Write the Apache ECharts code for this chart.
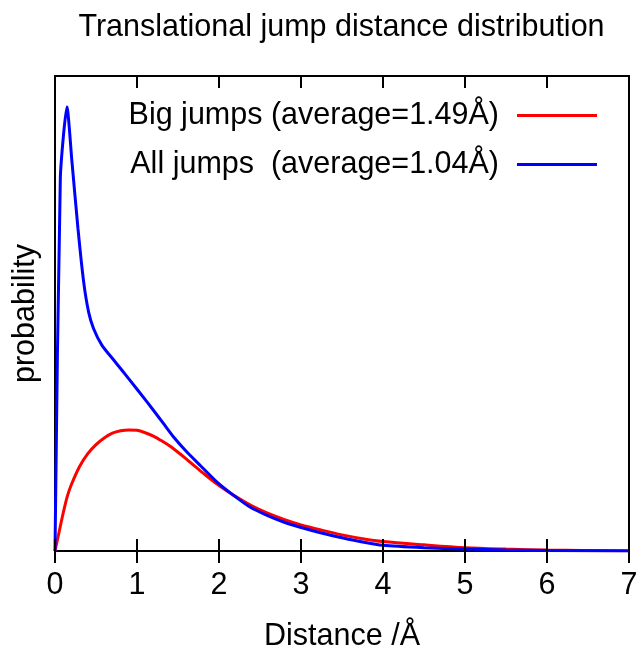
<!DOCTYPE html>
<html>
<head>
<meta charset="utf-8">
<script src="https://cdn.jsdelivr.net/npm/echarts@6/dist/echarts.min.js"></script>
<style>html,body{margin:0;padding:0;background:#fff}#c{width:642px;height:651px}</style>
</head>
<body>
<div id="c"></div>
<script>
const titleText = 'Translational jump distance distribution';
const xName = 'Distance /Å';
const yName = 'probability';
const xTicks = [0, 1, 2, 3, 4, 5, 6, 7];
const bigName = 'Big jumps (average=1.49Å)';
const allName = 'All jumps  (average=1.04Å)';
const bigJumps = [[0,0],[0.05,0.04],[0.1,0.08],[0.15,0.115],[0.2,0.14],[0.3,0.178],[0.4,0.205],[0.5,0.224],[0.6,0.238],[0.7,0.248],[0.8,0.253],[0.9,0.255],[1.0,0.254],[1.1,0.249],[1.2,0.242],[1.3,0.232],[1.4,0.221],[1.5,0.208],[1.6,0.194],[1.7,0.179],[1.8,0.165],[1.9,0.151],[2.0,0.138],[2.2,0.115],[2.4,0.095],[2.6,0.079],[2.8,0.066],[3.0,0.055],[3.25,0.044],[3.5,0.034],[3.75,0.026],[4.0,0.02],[4.5,0.013],[5.0,0.007],[5.5,0.004],[6.0,0.002],[7.0,0.0005]];
const allJumps = [[0,0],[0.065,0.785],[0.146,0.935],[0.207,0.819],[0.28,0.679],[0.349,0.567],[0.41,0.503],[0.471,0.468],[0.573,0.433],[0.735,0.398],[0.898,0.363],[1.122,0.314],[1.324,0.268],[1.446,0.24],[1.6,0.21],[1.772,0.18],[1.976,0.145],[2.178,0.117],[2.382,0.092],[2.586,0.075],[2.788,0.061],[2.99,0.05],[3.25,0.038],[3.5,0.028],[3.75,0.019],[4.0,0.012],[4.5,0.007],[5.0,0.004],[5.5,0.002],[6.0,0.001],[7.0,0]];

const FONT = 'Liberation Sans';
const TICK_LEN = 12;
const axisLine = {show: true, lineStyle: {color: '#000', width: 2}};
const xTick = {show: true, inside: true, length: TICK_LEN, lineStyle: {color: '#000', width: 2}};
const chart = echarts.init(document.getElementById('c'), null, {renderer: 'canvas'});
chart.setOption({
  animation: false,
  backgroundColor: '#fff',
  title: {
    text: titleText,
    left: 341.5,
    textAlign: 'center',
    top: 12,
    padding: 0,
    textStyle: {fontFamily: FONT, fontSize: 30.5, fontWeight: 'normal', color: '#000'}
  },
  legend: {
    orient: 'vertical',
    right: 45,
    top: 100,
    padding: 0,
    align: 'right',
    itemGap: 18,
    itemWidth: 80,
    itemHeight: 3,
    icon: 'rect',
    selectedMode: false,
    data: [bigName, allName],
    textStyle: {fontFamily: FONT, fontSize: 30.5, color: '#000', padding: [0, 13, 0, 0]}
  },
  grid: {
    left: 55, right: 13, top: 76, bottom: 100,
    outerBoundsMode: 'none', containLabel: false,
    show: true, borderColor: '#000', borderWidth: 2, backgroundColor: 'transparent'
  },
  xAxis: [{
    type: 'value', min: 0, max: 7, interval: 1, position: 'bottom',
    name: xName, nameLocation: 'middle', nameGap: 70,
    nameTextStyle: {fontFamily: FONT, fontSize: 30.5, color: '#000'},
    axisLine: axisLine,
    axisTick: xTick,
    axisLabel: {fontFamily: FONT, fontSize: 30.5, color: '#000', margin: 19},
    splitLine: {show: false}
  }, {
    type: 'value', min: 0, max: 7, interval: 1, position: 'top',
    axisLine: axisLine,
    axisTick: xTick,
    axisLabel: {show: false},
    splitLine: {show: false}
  }],
  yAxis: [{
    type: 'value', min: 0, max: 1, position: 'left',
    name: yName, nameLocation: 'middle', nameGap: 14,
    nameTextStyle: {fontFamily: FONT, fontSize: 30.5, color: '#000'},
    axisLine: axisLine, axisTick: {show: false}, axisLabel: {show: false},
    splitLine: {show: false}
  }, {
    type: 'value', min: 0, max: 1, position: 'right',
    axisLine: axisLine, axisTick: {show: false}, axisLabel: {show: false},
    splitLine: {show: false}
  }],
  series: [{
    name: bigName, type: 'line', data: bigJumps, showSymbol: false, smooth: 0.3,
    lineStyle: {color: '#ff0000', width: 3}, itemStyle: {color: '#ff0000'}
  }, {
    name: allName, type: 'line', data: allJumps, showSymbol: false, smooth: 0.2,
    lineStyle: {color: '#0000ff', width: 3}, itemStyle: {color: '#0000ff'}
  }]
});

// Tick marks on the top and bottom edges, placed through the chart's own scales.
try {
  const tickEls = [];
  xTicks.forEach(function (v) {
    let b = chart.convertToPixel({seriesIndex: 0}, [v, 0]);
    let t = chart.convertToPixel({seriesIndex: 0}, [v, 1]);
    if (!b || !t || isNaN(b[0]) || isNaN(t[1])) {
      b = chart.convertToPixel({gridIndex: 0}, [v, 0]);
      t = chart.convertToPixel({gridIndex: 0}, [v, 1]);
    }
    if (!b || !t) return;
    tickEls.push({type: 'line', z: 100, silent: true,
      shape: {x1: b[0], y1: b[1], x2: b[0], y2: b[1] - TICK_LEN},
      style: {stroke: '#000', lineWidth: 2}});
    tickEls.push({type: 'line', z: 100, silent: true,
      shape: {x1: t[0], y1: t[1], x2: t[0], y2: t[1] + TICK_LEN},
      style: {stroke: '#000', lineWidth: 2}});
  });
  if (tickEls.length) chart.setOption({graphic: tickEls});
} catch (e) {}
</script>
</body>
</html>
